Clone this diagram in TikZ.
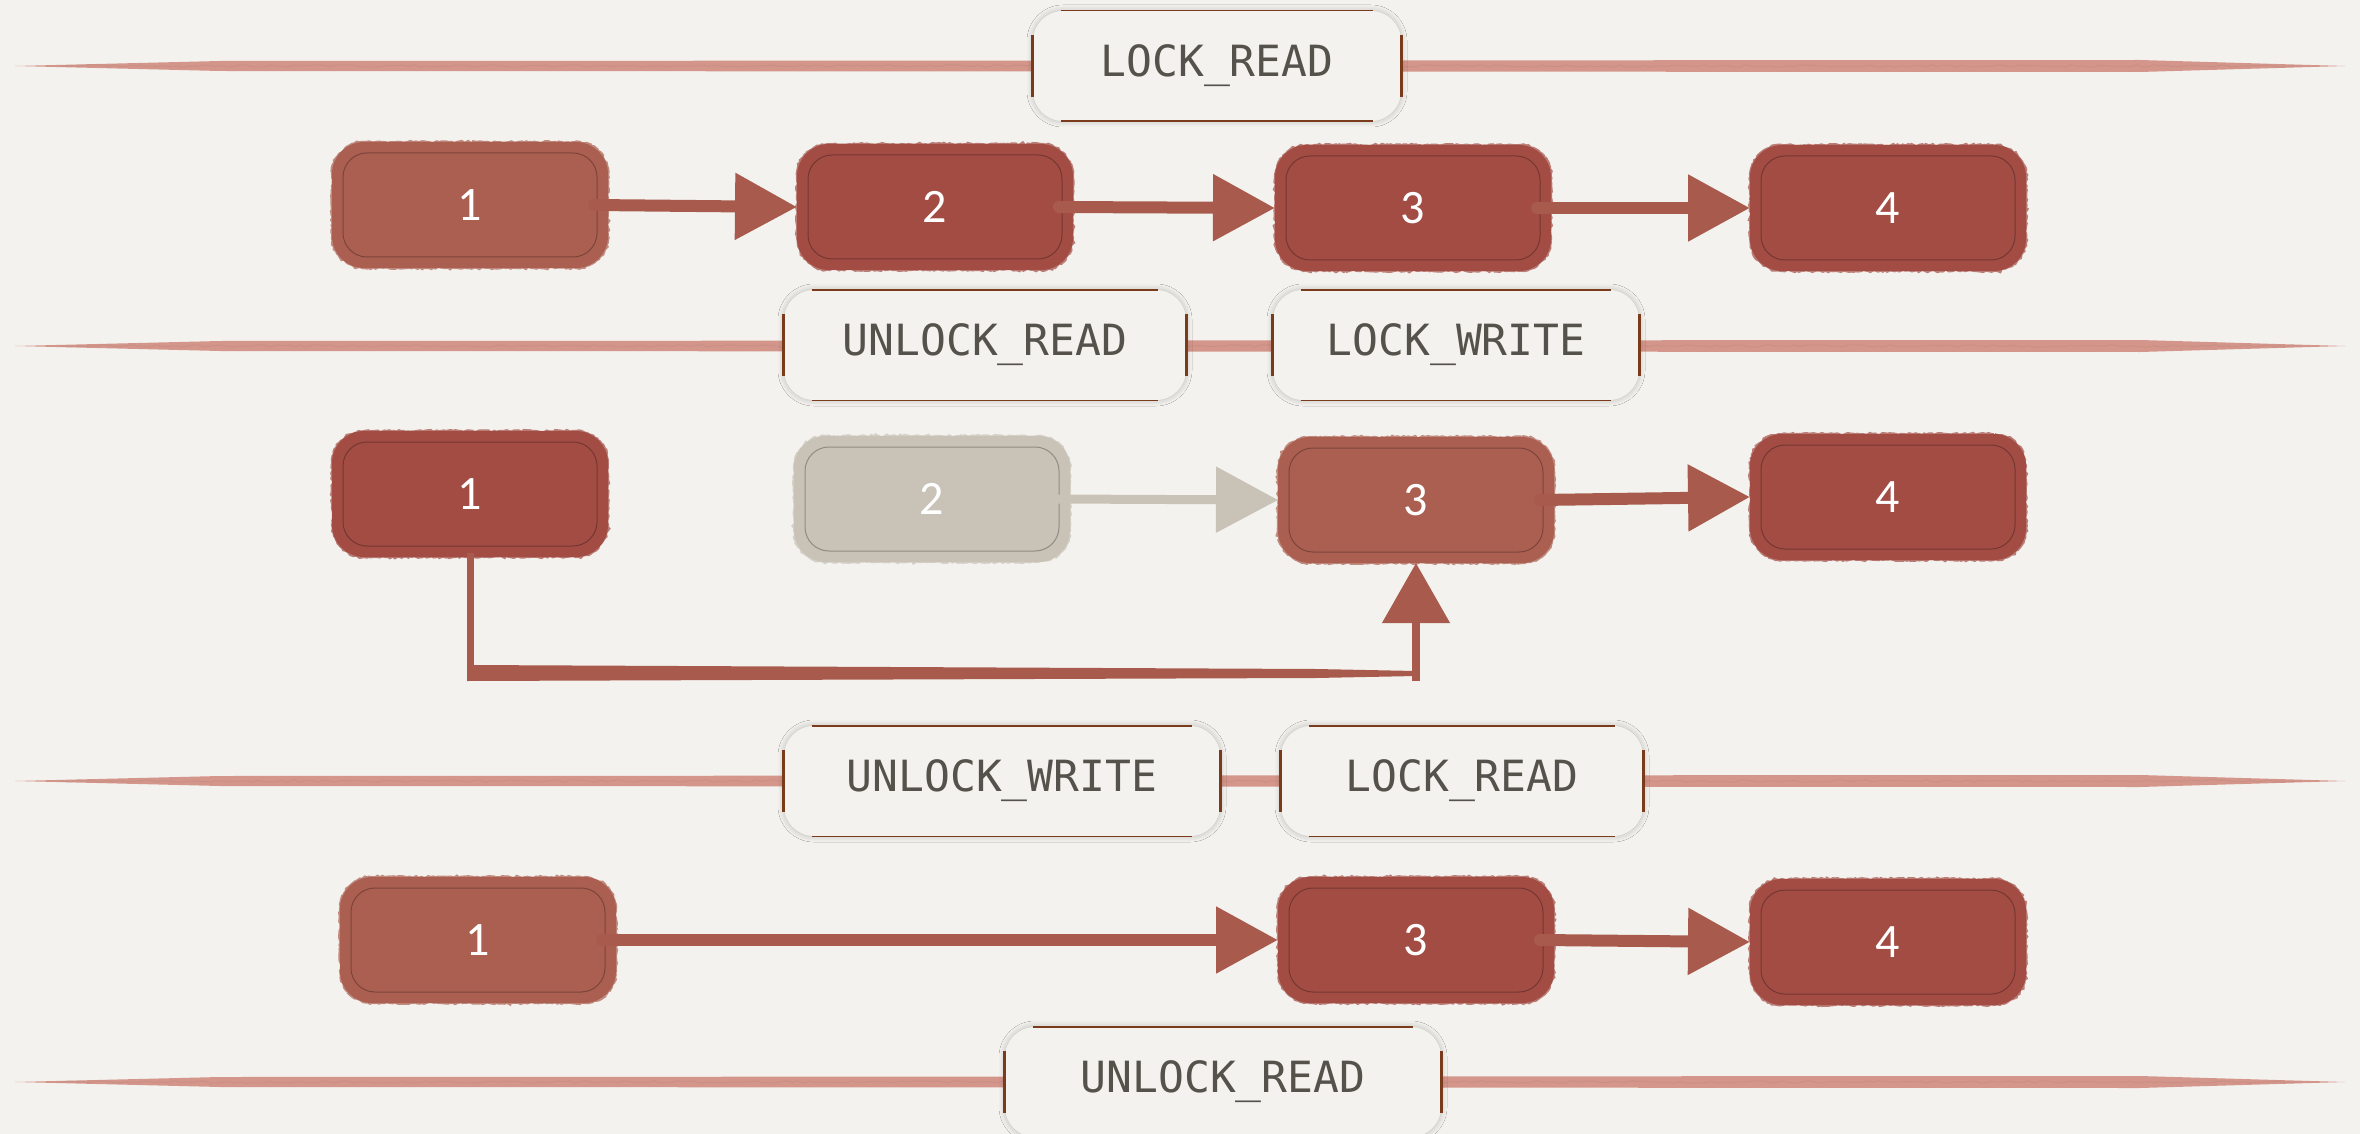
\documentclass[tikz,border=0pt]{standalone}
\usepackage{fontspec}
\newfontfamily\digitfont{Carlito}
\newfontfamily\codefont{DejaVu Sans Mono}
\usetikzlibrary{arrows.meta,decorations.pathmorphing,shadows.blur,calc}

\definecolor{paper}{HTML}{F3F2EE}
\definecolor{brick}{HTML}{A24C44}
\definecolor{brickl}{HTML}{AB5F51}
\definecolor{ash}{HTML}{C8C2B7}
\definecolor{rulered}{HTML}{D4968B}
\definecolor{rim}{HTML}{7A3A1C}
\definecolor{ink}{HTML}{55524C}
\definecolor{wire}{HTML}{A85B4D}

\tikzset{
  block/.style={rectangle, rounded corners=15pt, minimum width=136pt, minimum height=61pt,
    fill=#1, draw=#1, line width=2pt, text=white,
    font=\digitfont\fontsize{24}{24}\selectfont,
    preaction={draw=#1, line width=3pt, opacity=0.7, sharp corners, decorate,
      decoration={random steps, segment length=1.2pt, amplitude=0.5pt}},
    path picture={\draw[black, opacity=0.28, line width=0.5pt, rounded corners=12pt]
      ([shift={(4.5pt,-4.5pt)}]path picture bounding box.north west) rectangle
      ([shift={(-4.5pt,4.5pt)}]path picture bounding box.south east);}},
  tag/.style={rectangle, rounded corners=15pt, minimum height=55pt, minimum width=#1,
    fill=paper, text=ink, inner sep=0pt,
    font=\codefont\fontsize{21.5}{22}\selectfont,
    blur shadow={shadow xshift=0pt, shadow yshift=0pt, shadow blur radius=3pt, shadow opacity=25}},
  rimh/.style={draw=rim, line width=0.9pt},
  rimv/.style={draw=rim, line width=1.8pt},
  link/.style={draw=wire, line width=6pt, line cap=round,
    -{Triangle[length=31pt,width=32pt]}},
}

% a tapered paper rule across the page at height #1
\newcommand\paperrule[1]{%
  \fill[rulered] (15,#1) -- (220,#1-5) -- (2140,#1-6) -- (2345,#1) -- (2140,#1+6) -- (220,#1+5) -- cycle;
  \draw[rulered!80!black, opacity=0.2, line width=0.6pt, decorate,
    decoration={random steps, segment length=3pt, amplitude=0.6pt}] (60,#1) -- (2300,#1);}

\begin{document}
\begin{tikzpicture}[x=0.5pt, y=-0.5pt]
  \useasboundingbox (0,0) rectangle (2360,1134);
  \fill[paper] (0,0) rectangle (2360,1134);

  % rules
  \paperrule{66}
  \paperrule{346}
  \paperrule{781}
  \paperrule{1082}

  % operation tags
  \node[tag=184pt] (lk1) at (1217,66) {LOCK\_READ};
  \node[tag=201pt] (uk2) at (985,345) {UNLOCK\_READ};
  \node[tag=183pt] (lw2) at (1456,345) {LOCK\_WRITE};
  \node[tag=218pt] (uw3) at (1002,781) {UNLOCK\_WRITE};
  \node[tag=181pt] (lr3) at (1462,781) {LOCK\_READ};
  \node[tag=218pt] (ur4) at (1223,1082) {UNLOCK\_READ};
  \foreach \t in {lk1,uk2,lw2,uw3,lr3,ur4} {
    \draw[rimh] ([xshift=14pt]\t.north west) -- ([xshift=-14pt]\t.north east);
    \draw[rimh] ([xshift=14pt]\t.south west) -- ([xshift=-14pt]\t.south east);
    \draw[rimv] ([yshift=-12pt]\t.north west) -- ([yshift=12pt]\t.south west);
    \draw[rimv] ([yshift=-12pt]\t.north east) -- ([yshift=12pt]\t.south east);
  }

  % first list
  \node[block=brickl] (n11) at (470,205) {1};
  \node[block=brick]  (n12) at (935,207) {2};
  \node[block=brick]  (n13) at (1413,208) {3};
  \node[block=brick]  (n14) at (1888,208) {4};
  \draw[link] ([xshift=-7pt]n11.east) -- (n12.west);
  \draw[link] ([xshift=-7pt]n12.east) -- (n13.west);
  \draw[link] ([xshift=-7pt]n13.east) -- (n14.west);

  % second list
  \node[block=brick]  (n21) at (470,494) {1};
  \node[block=ash]    (n22) at (932,499) {2};
  \node[block=brickl] (n23) at (1416,500) {3};
  \node[block=brick]  (n24) at (1888,497) {4};
  \draw[link, draw=ash, line width=4.5pt] ([xshift=-7pt]n22.east) -- (n23.west);
  \draw[link] ([xshift=-7pt]n23.east) -- (n24.west);
  \coordinate (elbowA) at (470,673);
  \coordinate (elbowB) at (1416,673);
  \draw[draw=wire, line width=3.5pt] ([yshift=2pt]n21.south) -- ($(elbowA)+(0,2)$);
  \fill[wire] ($(elbowA)+(-3,-8)$) -- ($(elbowB)+(-100,-4)$) -- ($(elbowB)+(0,-2)$)
    -- ($(elbowB)+(0,3)$) -- ($(elbowB)+(-100,5)$) -- ($(elbowA)+(-3,8)$) -- cycle;
  \draw[draw=wire, line width=4pt, -{Triangle[length=30pt,width=33pt]}]
    ($(elbowB)+(0,8)$) -- (n23.south);

  % third list
  \node[block=brickl] (n31) at (478,940) {1};
  \node[block=brick]  (n33) at (1416,940) {3};
  \node[block=brick]  (n34) at (1888,942) {4};
  \draw[link] ([xshift=-7pt]n31.east) -- (n33.west);
  \draw[link] ([xshift=-7pt]n33.east) -- (n34.west);
\end{tikzpicture}
\end{document}
